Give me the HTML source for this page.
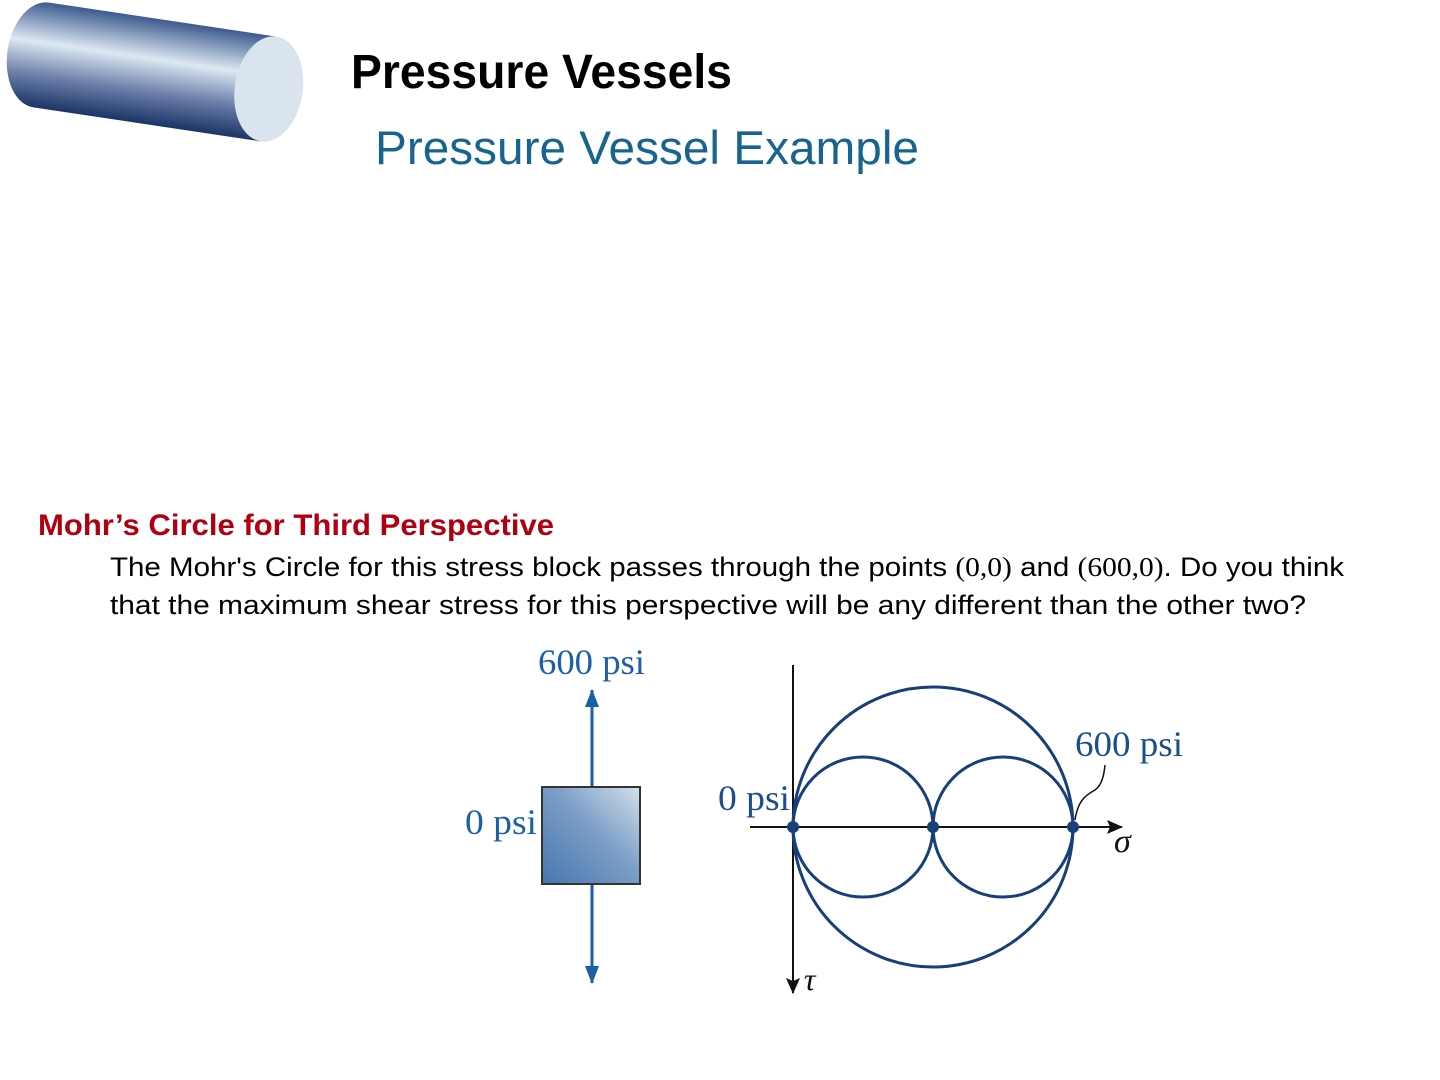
<!DOCTYPE html>
<html><head><meta charset="utf-8"><style>
html,body{margin:0;padding:0;background:#fff;width:1440px;height:1080px;overflow:hidden}
</style></head><body>
<svg width="1440" height="1080" viewBox="0 0 1440 1080" xmlns="http://www.w3.org/2000/svg">
<defs>
<linearGradient id="cyl" gradientUnits="userSpaceOnUse" x1="0" y1="-53" x2="0" y2="53">
<stop offset="0" stop-color="#3d5a8e"/>
<stop offset="0.38" stop-color="#dde8f3"/>
<stop offset="0.7" stop-color="#6a7ea8"/>
<stop offset="1" stop-color="#1b3466"/>
</linearGradient>
<linearGradient id="box" x1="0" y1="1" x2="1" y2="0">
<stop offset="0" stop-color="#4676ad"/>
<stop offset="0.55" stop-color="#7c9fc7"/>
<stop offset="1" stop-color="#d4e0ea"/>
</linearGradient>
<marker id="ab" markerWidth="18" markerHeight="14" refX="17" refY="7" orient="auto" markerUnits="userSpaceOnUse"><path d="M0,0 L18,7 L0,14 Z" fill="#1a5fa8"/></marker>
<marker id="ak" markerWidth="16" markerHeight="14" refX="15" refY="7" orient="auto" markerUnits="userSpaceOnUse"><path d="M0,0 L16,7 L0,14 L3,7 Z" fill="#111"/></marker>
</defs>
<g transform="translate(155,72) rotate(8.5)">
<path d="M-115,-53 L115,-53 L115,53 L-115,53 A34,53 0 0 1 -115,-53 Z" fill="url(#cyl)"/>
<ellipse cx="115" cy="0" rx="34" ry="53" fill="#d9e4ee"/>
</g>
<text x="351" y="88" font-family="Liberation Sans, sans-serif" font-weight="bold" font-size="48" textLength="381" lengthAdjust="spacingAndGlyphs">Pressure Vessels</text>
<text x="375" y="164" font-family="Liberation Sans, sans-serif" font-size="47" fill="#17648f" textLength="544" lengthAdjust="spacingAndGlyphs">Pressure Vessel Example</text>
<text x="38" y="535" font-family="Liberation Sans, sans-serif" font-weight="bold" font-size="30" fill="#b00010" textLength="516" lengthAdjust="spacingAndGlyphs">Mohr’s Circle for Third Perspective</text>
<text x="110" y="576" font-family="Liberation Sans, sans-serif" font-size="27" fill="#000" textLength="1234" lengthAdjust="spacingAndGlyphs">The Mohr's Circle for this stress block passes through the points <tspan font-family="Liberation Serif, serif">(0,0)</tspan> and <tspan font-family="Liberation Serif, serif">(600,0)</tspan>. Do you think</text>
<text x="110" y="614" font-family="Liberation Sans, sans-serif" font-size="27" fill="#000" textLength="1196" lengthAdjust="spacingAndGlyphs">that the maximum shear stress for this perspective will be any different than the other two?</text>
<line x1="592" y1="786" x2="592" y2="690" stroke="#1a5fa8" stroke-width="3" marker-end="url(#ab)"/>
<line x1="592" y1="884" x2="592" y2="983" stroke="#1a5fa8" stroke-width="3" marker-end="url(#ab)"/>
<rect x="542" y="787" width="98" height="97" fill="url(#box)" stroke="#333" stroke-width="2"/>
<text x="538" y="674" font-family="Liberation Serif, serif" font-size="36" fill="#1a5fa8" textLength="107" lengthAdjust="spacingAndGlyphs">600 psi</text>
<text x="465" y="834" font-family="Liberation Serif, serif" font-size="36" fill="#1a5fa8" textLength="72" lengthAdjust="spacingAndGlyphs">0 psi</text>
<line x1="750" y1="827" x2="1122" y2="827" stroke="#111" stroke-width="2" marker-end="url(#ak)"/>
<line x1="793" y1="665" x2="793" y2="993" stroke="#111" stroke-width="2" marker-end="url(#ak)"/>
<g fill="none" stroke="#173f7a" stroke-width="3">
<circle cx="933" cy="827" r="140"/>
<circle cx="863" cy="827" r="70"/>
<circle cx="1003" cy="827" r="70"/>
</g>
<path d="M1075,820 C1078,800 1086,795 1095,790 C1102,785 1104,775 1105,765" fill="none" stroke="#111" stroke-width="1.5"/>
<g fill="#173f7a"><circle cx="793" cy="827" r="6"/><circle cx="933" cy="827" r="6"/><circle cx="1073" cy="827" r="6"/></g>
<text x="718" y="810" font-family="Liberation Serif, serif" font-size="36" fill="#1a4f8a" textLength="72" lengthAdjust="spacingAndGlyphs">0 psi</text>
<text x="1075" y="756" font-family="Liberation Serif, serif" font-size="36" fill="#1a4f8a" textLength="108" lengthAdjust="spacingAndGlyphs">600 psi</text>
<text x="1114" y="852" font-family="Liberation Serif, serif" font-style="italic" font-size="34" fill="#111">σ</text>
<text x="804" y="990" font-family="Liberation Serif, serif" font-style="italic" font-size="32" fill="#111">τ</text>
</svg>
</body></html>
